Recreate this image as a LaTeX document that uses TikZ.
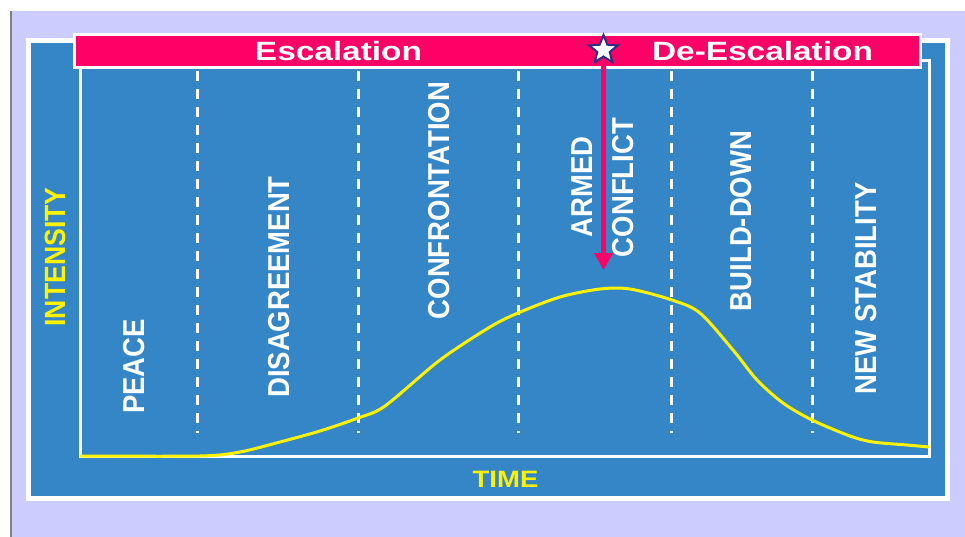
\documentclass[tikz,border=0pt]{standalone}
\usepackage{fontspec}
\setmainfont{Liberation Sans}
\usetikzlibrary{shapes.geometric,arrows.meta}
\definecolor{lavender}{RGB}{204,204,255}
\definecolor{chartblue}{RGB}{53,134,198}
\definecolor{banner}{RGB}{255,0,102}
\definecolor{starblue}{RGB}{45,45,130}

\begin{document}
\begin{tikzpicture}[x=1pt,y=-1pt,
  phase/.style={white,font=\fontsize{27.5}{30}\selectfont\bfseries,inner sep=0pt,rotate=90,yscale=1.1},
  title/.style={white,font=\fontsize{26.5}{30}\selectfont\bfseries,inner sep=0pt,xscale=1.26}]
\useasboundingbox (0,0) rectangle (965,537);
%fond
\fill[white] (0,0) rectangle (965,537);
\fill[lavender] (12,11) rectangle (965,537);
\draw[gray,line width=2] (11,11) -- (11,537);
%fin

%cadres
\draw[white,line width=5,fill=chartblue] (28.5,40.5) rectangle (947.5,498.5);
\draw[white,line width=3] (80.5,60.5) rectangle (929,456.5);
\draw[white,line width=3,fill=banner] (74.5,34.5) rectangle (920.5,67.5);
%fin

%phases
\foreach \x in {197,358,518,671,812}
  \draw[white,line width=3,dash pattern=on 10pt off 8pt] (\x,71) -- (\x,433);
%fin

%courbe
\draw[yellow,line width=3,smooth,tension=0.5] plot coordinates {(80,456) (200,456) (240,452) (280,442) (320,431) (358,418) (385,406) (440,360) (490,327) (518,313) (560,297) (600,289) (630,289) (672,300) (700,313) (733,350) (757,380) (783,403) (812,420) (850,436) (873,442) (907,445) (929,447)};

%textes
\node[title] (escal) at (338.5,51) {Escalation};
\node[title] (deescal) at (762.5,51) {De-Escalation};
\node[phase] (peace) at (134.5,366.5) {PEACE};
\node[phase] (disagree) at (279.5,287) {DISAGREEMENT};
\node[phase] (confront) at (439.5,200.5) {CONFRONTATION};
\node[phase] (armed) at (582.5,187) {ARMED};
\node[phase] (conflict) at (623.5,187.5) {CONFLICT};
\node[phase] (builddown) at (741.5,221) {BUILD-DOWN};
\node[phase] (newstab) at (866.5,288.5) {NEW STABILITY};
\node[phase,yellow,font=\fontsize{26.6}{30}\selectfont\bfseries] (intensity) at (55,257) {INTENSITY};
\node[title,yellow,font=\fontsize{23.7}{30}\selectfont\bfseries,xscale=0.92] (time) at (505.5,479) {TIME};
%fin

%fleche
\coordinate (armtop) at (603.5,50);
\coordinate (armtip) at (603.5,270);
\draw[banner,line width=5,-{Triangle[width=18pt,length=17pt]}] (armtop) -- (armtip);
\node[star,star points=5,star point ratio=2.3,minimum size=30pt,inner sep=0pt,fill=white,draw=starblue,line width=2] (star) at (armtop) {};
\end{tikzpicture}
\end{document}
